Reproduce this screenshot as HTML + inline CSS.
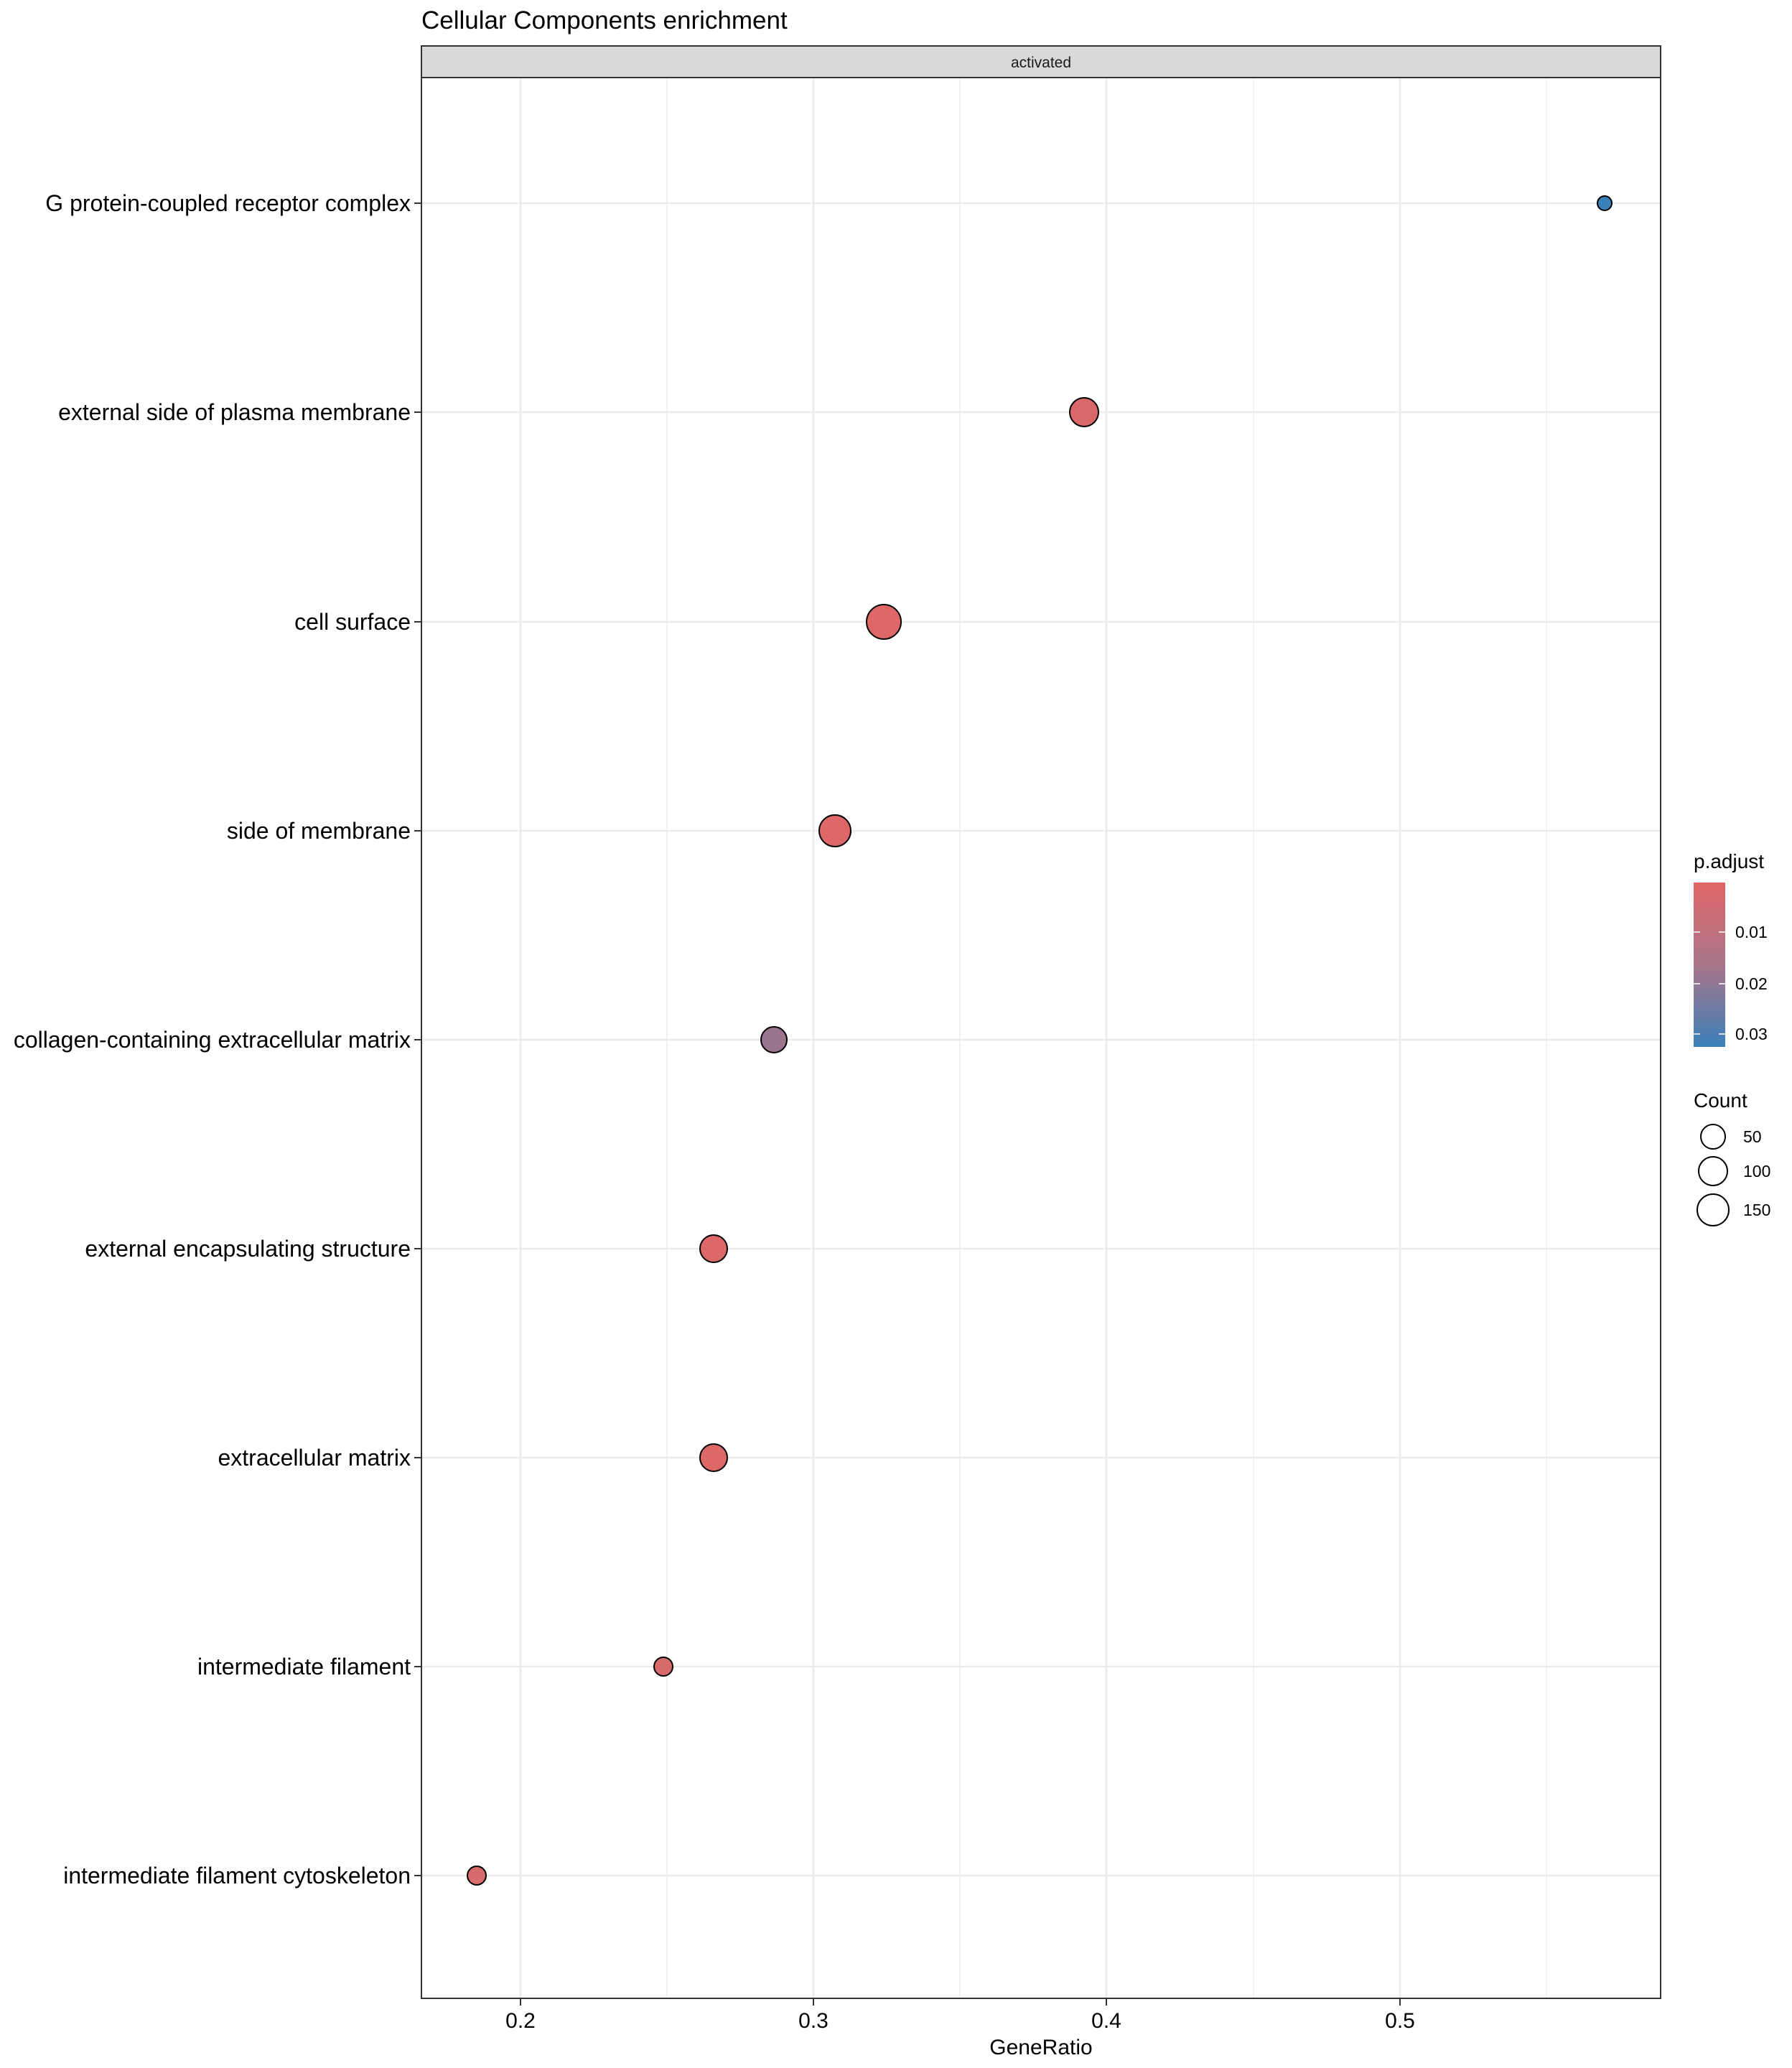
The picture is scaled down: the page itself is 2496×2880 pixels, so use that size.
<!DOCTYPE html>
<html><head><meta charset="utf-8"><style>body{margin:0;background:#fff}svg{display:block}text{font-family:"Liberation Sans",sans-serif}</style></head><body>
<svg width="2496" height="2880" viewBox="0 0 2496 2880" xmlns="http://www.w3.org/2000/svg">
<defs><linearGradient id="g" x1="0" y1="0" x2="0" y2="1"><stop offset="0" stop-color="#e06666"/><stop offset="0.5" stop-color="#a87589"/><stop offset="1" stop-color="#3a80b9"/></linearGradient></defs>
<text x="587" y="40" font-size="35" fill="#000">Cellular Components enrichment</text>
<rect x="587" y="64" width="1726" height="44" fill="#d9d9d9" stroke="#333" stroke-width="2"/>
<text x="1450" y="94" font-size="21" text-anchor="middle" fill="#1a1a1a">activated</text>
<rect x="587" y="108" width="1726" height="2675" fill="#fff"/>
<g stroke="#ebebeb" stroke-width="1.3">
<line x1="929" y1="108" x2="929" y2="2783"/><line x1="1337" y1="108" x2="1337" y2="2783"/><line x1="1746" y1="108" x2="1746" y2="2783"/><line x1="2154" y1="108" x2="2154" y2="2783"/>
</g>
<g stroke="#ebebeb" stroke-width="2.6">
<line x1="725" y1="108" x2="725" y2="2783"/><line x1="1133" y1="108" x2="1133" y2="2783"/><line x1="1541" y1="108" x2="1541" y2="2783"/><line x1="1950" y1="108" x2="1950" y2="2783"/>
<line x1="587" y1="283" x2="2313" y2="283"/><line x1="587" y1="574" x2="2313" y2="574"/><line x1="587" y1="866" x2="2313" y2="866"/><line x1="587" y1="1157" x2="2313" y2="1157"/><line x1="587" y1="1448" x2="2313" y2="1448"/><line x1="587" y1="1739" x2="2313" y2="1739"/><line x1="587" y1="2030" x2="2313" y2="2030"/><line x1="587" y1="2321" x2="2313" y2="2321"/><line x1="587" y1="2612" x2="2313" y2="2612"/>
</g>
<rect x="587" y="108" width="1726" height="2675" fill="none" stroke="#333" stroke-width="2"/>
<g stroke="#000" stroke-width="2">
<circle cx="2235" cy="283" r="10" fill="#3a80b9"/>
<circle cx="1510" cy="574" r="20" fill="#db6868"/>
<circle cx="1231" cy="866" r="24" fill="#de6767"/>
<circle cx="1163" cy="1157" r="22" fill="#de6767"/>
<circle cx="1078" cy="1448" r="18" fill="#9a7590"/>
<circle cx="994" cy="1739" r="19" fill="#dd6868"/>
<circle cx="994" cy="2030" r="19" fill="#dd6868"/>
<circle cx="924" cy="2321" r="13" fill="#d96a6c"/>
<circle cx="664" cy="2612" r="13" fill="#d96a6c"/>
</g>
<g stroke="#333" stroke-width="2">
<line x1="577" y1="283" x2="587" y2="283"/><line x1="577" y1="574" x2="587" y2="574"/><line x1="577" y1="866" x2="587" y2="866"/><line x1="577" y1="1157" x2="587" y2="1157"/><line x1="577" y1="1448" x2="587" y2="1448"/><line x1="577" y1="1739" x2="587" y2="1739"/><line x1="577" y1="2030" x2="587" y2="2030"/><line x1="577" y1="2321" x2="587" y2="2321"/><line x1="577" y1="2612" x2="587" y2="2612"/>
<line x1="725" y1="2783" x2="725" y2="2793"/><line x1="1133" y1="2783" x2="1133" y2="2793"/><line x1="1541" y1="2783" x2="1541" y2="2793"/><line x1="1950" y1="2783" x2="1950" y2="2793"/>
</g>
<g font-size="32" fill="#000" text-anchor="end">
<text x="572" y="294">G protein-coupled receptor complex</text>
<text x="572" y="585">external side of plasma membrane</text>
<text x="572" y="877">cell surface</text>
<text x="572" y="1168">side of membrane</text>
<text x="572" y="1459">collagen-containing extracellular matrix</text>
<text x="572" y="1750">external encapsulating structure</text>
<text x="572" y="2041">extracellular matrix</text>
<text x="572" y="2332">intermediate filament</text>
<text x="572" y="2623">intermediate filament cytoskeleton</text>
</g>
<g font-size="30" fill="#000" text-anchor="middle">
<text x="725" y="2824">0.2</text><text x="1133" y="2824">0.3</text><text x="1541" y="2824">0.4</text><text x="1950" y="2824">0.5</text>
<text x="1450" y="2861">GeneRatio</text>
</g>
<text x="2359" y="1209" font-size="28" fill="#000">p.adjust</text>
<rect x="2359" y="1229" width="44" height="229" fill="url(#g)"/>
<g stroke="#fff" stroke-width="1.5">
<line x1="2359" y1="1298" x2="2368" y2="1298"/><line x1="2394" y1="1298" x2="2403" y2="1298"/>
<line x1="2359" y1="1370" x2="2368" y2="1370"/><line x1="2394" y1="1370" x2="2403" y2="1370"/>
<line x1="2359" y1="1440" x2="2368" y2="1440"/><line x1="2394" y1="1440" x2="2403" y2="1440"/>
</g>
<g font-size="23" fill="#000">
<text x="2417" y="1306">0.01</text><text x="2417" y="1378">0.02</text><text x="2417" y="1448">0.03</text>
</g>
<text x="2359" y="1542" font-size="28" fill="#000">Count</text>
<g fill="none" stroke="#000" stroke-width="2">
<circle cx="2386" cy="1583" r="17"/>
<circle cx="2386" cy="1631" r="20"/>
<circle cx="2386" cy="1685" r="22"/>
</g>
<g font-size="23" fill="#000">
<text x="2428" y="1591">50</text><text x="2428" y="1639">100</text><text x="2428" y="1693">150</text>
</g>
</svg>
</body></html>
